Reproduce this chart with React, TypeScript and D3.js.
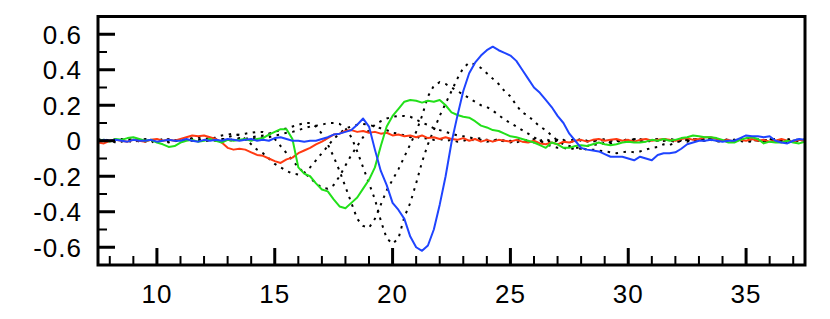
import React, { useEffect, useRef } from 'react';
import * as d3 from 'd3';

// samples every 0.25 starting at x = 7.5 (one row = one x unit)
const xStart = 7.5;
const xStep = 0.25;

const red = [
  -0.01, -0.015, 0.0, 0.005,
  0.0, -0.005, 0.005, 0.0,
  -0.005, 0.005, 0.01, 0.0,
  0.005, 0.0, 0.01, 0.02,
  0.03, 0.025, 0.03, 0.02,
  0.01, -0.01, -0.04, -0.05,
  -0.045, -0.05, -0.065, -0.08,
  -0.085, -0.1, -0.115, -0.125,
  -0.105, -0.095, -0.07, -0.055,
  -0.04, -0.02, -0.005, 0.015,
  0.035, 0.04, 0.055, 0.06,
  0.05, 0.055, 0.045, 0.05,
  0.04, 0.045, 0.03, 0.035,
  0.025, 0.03, 0.02, 0.03,
  0.015, 0.02, 0.01, 0.02,
  0.01, 0.005, 0.015, 0.0,
  0.01, -0.005, 0.005, -0.005,
  0.005, 0.0, -0.005, 0.005,
  -0.005, -0.01, 0.0, -0.015,
  -0.02, -0.01, -0.02, -0.005,
  -0.01, 0.0, 0.005, -0.005,
  0.005, 0.01, 0.0, 0.005,
  0.01, 0.0, 0.005, -0.005,
  0.005, 0.01, 0.0, 0.005,
  0.01, 0.005, 0.0, 0.01,
  0.015, 0.005, 0.01, 0.02,
  0.02, 0.01, 0.0, 0.005,
  -0.005, 0.005, 0.0, 0.01,
  0.0, 0.005, -0.005, 0.0,
  0.01, 0.0, -0.005, 0.005,
  0.0,
];

const green = [
  0.0, 0.005, -0.005, 0.01,
  0.005, 0.015, 0.02, 0.01,
  0.0, 0.005, -0.01, -0.02,
  -0.035, -0.03, -0.01, 0.0,
  0.005, -0.005, 0.0, 0.01,
  0.0, -0.01, 0.005, 0.0,
  0.005, 0.01, 0.0, 0.01,
  0.015, 0.035, 0.05, 0.065,
  0.065, 0.01, -0.15, -0.185,
  -0.2, -0.24, -0.275, -0.285,
  -0.33, -0.37, -0.38, -0.35,
  -0.32, -0.27, -0.22, -0.15,
  -0.03, 0.08, 0.14, 0.18,
  0.22, 0.23, 0.225, 0.215,
  0.225, 0.22, 0.23, 0.2,
  0.16, 0.145, 0.135, 0.13,
  0.11, 0.085, 0.075, 0.06,
  0.055, 0.04, 0.025, 0.02,
  0.01, 0.0, -0.01, -0.025,
  -0.04, -0.01, -0.02, -0.04,
  -0.04, -0.03, -0.025, -0.03,
  -0.02, -0.01, -0.02, -0.025,
  -0.02, -0.01, -0.005, -0.01,
  -0.01, -0.005, 0.005, 0.0,
  0.01, 0.0, 0.005, 0.015,
  0.02, 0.03, 0.025, 0.02,
  0.02, 0.015, 0.005, -0.01,
  -0.01, 0.005, 0.015, 0.02,
  0.01, -0.015, -0.005, -0.01,
  -0.01, 0.0, -0.01, -0.015,
  -0.005,
];

const blue = [
  -0.005, 0.005, 0.0, 0.005,
  0.0, -0.005, 0.005, 0.0,
  0.0, 0.005, -0.005, 0.0,
  0.005, 0.0, 0.0, 0.01,
  0.0, -0.005, 0.005, 0.0,
  0.005, 0.0, 0.01, 0.005,
  0.0, 0.005, 0.01, 0.0,
  0.005, 0.0, 0.015, 0.02,
  0.01, 0.0, 0.0, -0.005,
  0.0, 0.0, 0.01, 0.02,
  0.035, 0.04, 0.05, 0.06,
  0.09, 0.125, 0.08, -0.05,
  -0.17, -0.25, -0.35, -0.39,
  -0.44, -0.54, -0.6, -0.62,
  -0.59, -0.5, -0.36, -0.2,
  -0.01, 0.14, 0.28, 0.38,
  0.44, 0.48, 0.51, 0.53,
  0.51, 0.495, 0.48, 0.45,
  0.4, 0.35, 0.3, 0.27,
  0.23, 0.19, 0.14, 0.1,
  0.04, 0.0, -0.04, -0.05,
  -0.055, -0.06, -0.075, -0.09,
  -0.09, -0.09, -0.1, -0.11,
  -0.09, -0.1, -0.11, -0.08,
  -0.07, -0.07, -0.065, -0.045,
  -0.02, -0.01, 0.0, 0.0,
  0.005, 0.0, -0.005, 0.0,
  0.0, 0.015, 0.03, 0.025,
  0.025, 0.02, 0.025, 0.0,
  -0.01, -0.015, 0.0, 0.01,
  0.005,
];

// intermediate snapshots, dotted black
const dot1 = [
  0.005, -0.005, 0.01, 0.0,
  -0.005, 0.005, 0.0, 0.01,
  0.0, -0.01, 0.005, 0.0,
  0.01, 0.0, -0.005, 0.005,
  0.015, 0.02, 0.01, 0.005,
  0.02, 0.03, 0.035, 0.04,
  0.03, 0.01, -0.02, -0.05,
  -0.07, -0.1, -0.13, -0.15,
  -0.17, -0.185, -0.19, -0.18,
  -0.15, -0.11, -0.07, -0.03,
  0.01, 0.04, 0.07, 0.08,
  0.09, 0.095, 0.09, 0.08,
  0.07, 0.06, 0.045, 0.04,
  0.03, 0.02, 0.025, 0.01,
  0.015, 0.005, 0.01, 0.0,
  0.005, -0.005, 0.0, 0.01,
  0.0, 0.005, -0.005, 0.0,
  0.01, 0.0, -0.01, 0.005,
  0.0, -0.005, 0.01, 0.0,
  -0.01, 0.0, 0.005, -0.005,
  0.0, 0.01, 0.0, -0.005,
  0.005, 0.0, 0.01, 0.0,
  -0.005, 0.005, 0.0, 0.01,
  0.0, -0.01, 0.005, 0.0,
  0.01, 0.0, -0.005, 0.005,
  0.0, 0.01, 0.005, 0.0,
  0.015, 0.0, -0.005, 0.005,
  0.0, 0.01, 0.0, -0.005,
  0.005, 0.0, 0.01, 0.0,
  -0.005, 0.005, 0.0, 0.01,
  0.0,
];

const dot2 = [
  0.0, 0.01, -0.005, 0.005,
  0.01, 0.0, -0.01, 0.005,
  0.005, 0.0, 0.01, -0.005,
  0.0, 0.005, 0.0, 0.01,
  0.005, 0.0, 0.01, 0.015,
  0.01, 0.005, 0.02, 0.03,
  0.035, 0.04, 0.045, 0.05,
  0.05, 0.04, 0.01, -0.03,
  -0.07, -0.11, -0.15, -0.18,
  -0.21, -0.24, -0.265, -0.27,
  -0.25, -0.2, -0.14, -0.08,
  -0.03, 0.02, 0.06, 0.09,
  0.11, 0.125, 0.135, 0.14,
  0.14, 0.135, 0.12, 0.1,
  0.09, 0.07, 0.06, 0.05,
  0.04, 0.03, 0.025, 0.02,
  0.01, 0.015, 0.005, 0.0,
  0.005, -0.005, 0.0, -0.01,
  0.0, 0.005, -0.01, 0.0,
  0.01, -0.005, 0.0, 0.005,
  -0.01, 0.0, 0.01, 0.0,
  -0.005, 0.005, 0.0, -0.01,
  0.005, 0.0, 0.01, 0.005,
  0.0, -0.005, 0.005, 0.01,
  0.0, 0.005, -0.005, 0.0,
  0.01, 0.0, 0.005, 0.015,
  0.005, -0.005, 0.0, 0.01,
  0.005, 0.0, -0.01, 0.0,
  0.01, 0.005, 0.0, -0.005,
  0.0, 0.01, 0.005, 0.0,
  0.005,
];

const dot3 = [
  0.01, 0.0, 0.005, -0.01,
  0.0, 0.01, 0.005, 0.0,
  -0.005, 0.005, 0.0, 0.01,
  0.005, -0.005, 0.01, 0.0,
  0.0, 0.01, 0.005, 0.0,
  0.005, 0.01, 0.0, 0.01,
  0.015, 0.01, 0.02, 0.025,
  0.03, 0.04, 0.05, 0.06,
  0.07, 0.08, 0.09, 0.1,
  0.1, 0.08, 0.04, -0.02,
  -0.09, -0.17, -0.26, -0.35,
  -0.44, -0.48, -0.49, -0.44,
  -0.36, -0.28, -0.22, -0.16,
  -0.09, -0.02, 0.05, 0.14,
  0.25, 0.31, 0.33, 0.32,
  0.3, 0.28, 0.26, 0.24,
  0.22, 0.2, 0.19, 0.17,
  0.145, 0.12, 0.1, 0.08,
  0.06, 0.04, 0.02, 0.0,
  -0.02, -0.03, -0.04, -0.04,
  -0.05, -0.04, -0.045, -0.03,
  -0.02, -0.025, -0.01, -0.015,
  0.0, -0.01, 0.005, 0.0,
  0.01, 0.0, -0.005, 0.005,
  0.0, 0.01, 0.005, 0.0,
  -0.005, 0.005, 0.01, 0.0,
  0.01, 0.005, 0.0, -0.005,
  0.005, 0.0, 0.01, 0.005,
  0.0, -0.005, 0.005, 0.01,
  0.0, 0.005, -0.005, 0.0,
  0.01,
];

const dot4 = [
  -0.005, 0.005, 0.0, 0.01,
  0.005, 0.0, 0.01, -0.005,
  0.01, 0.0, 0.005, 0.0,
  -0.01, 0.005, 0.0, 0.005,
  0.01, 0.0, -0.005, 0.005,
  0.0, 0.01, 0.005, 0.0,
  0.01, 0.005, 0.01, 0.015,
  0.02, 0.02, 0.03, 0.035,
  0.045, 0.05, 0.06, 0.07,
  0.08, 0.085, 0.09, 0.1,
  0.1, 0.095, 0.07, 0.02,
  -0.06, -0.15, -0.24, -0.33,
  -0.45, -0.55, -0.58, -0.55,
  -0.43, -0.35, -0.24, -0.12,
  -0.02, 0.06, 0.14, 0.21,
  0.28, 0.35, 0.41, 0.44,
  0.43, 0.41, 0.38, 0.35,
  0.32, 0.28, 0.25, 0.2,
  0.16, 0.14, 0.11, 0.08,
  0.06, 0.03, 0.0, -0.02,
  -0.03, -0.04, -0.04, -0.05,
  -0.05, -0.055, -0.06, -0.065,
  -0.07, -0.065, -0.06, -0.065,
  -0.06, -0.05, -0.04, -0.035,
  -0.02, -0.025, -0.01, 0.0,
  0.005, 0.01, 0.0, 0.015,
  0.01, 0.0, 0.005, -0.005,
  0.0, 0.01, 0.02, 0.005,
  0.0, -0.005, 0.01, 0.0,
  0.005, -0.01, 0.0, 0.005,
  0.0,
];

const dottedSeries = [dot1, dot2, dot3, dot4];
const coloredSeries = [
  { values: red, color: '#ff3a12' },
  { values: green, color: '#22e01a' },
  { values: blue, color: '#1f44ff' },
];

const xMajorTicks = [10, 15, 20, 25, 30, 35];
const xMinorTicks = [8, 9, 11, 12, 13, 14, 16, 17, 18, 19, 21, 22, 23, 24, 26, 27, 28, 29, 31, 32, 33, 34, 36, 37];
const yMajorTicks = [-0.6, -0.4, -0.2, 0, 0.2, 0.4, 0.6];
const yMajorLabels = ['-0.6', '-0.4', '-0.2', '0', '0.2', '0.4', '0.6'];
const yMinorTicks = [-0.5, -0.3, -0.1, 0.1, 0.3, 0.5];

const width = 830;
const height = 319;
const frame = { left: 98, right: 805, top: 16.5, bottom: 265 };

export default function App() {
  const ref = useRef<SVGSVGElement>(null);

  useEffect(() => {
    const svg = d3.select(ref.current);
    svg.selectAll('*').remove();

    const x = d3.scaleLinear().domain([7.5, 37.5]).range([frame.left, frame.right]);
    const y = d3.scaleLinear().domain([-0.7, 0.7]).range([frame.bottom, frame.top]);

    const line = d3.line<number>()
      .x((_, i) => x(xStart + i * xStep))
      .y(d => y(d));

    svg.append('clipPath').attr('id', 'plotClip')
      .append('rect')
      .attr('x', frame.left).attr('y', frame.top)
      .attr('width', frame.right - frame.left)
      .attr('height', frame.bottom - frame.top);

    const plot = svg.append('g').attr('clip-path', 'url(#plotClip)');

    plot.selectAll('path.dotted')
      .data(dottedSeries)
      .join('path')
      .attr('class', 'dotted')
      .attr('fill', 'none')
      .attr('stroke', '#000')
      .attr('stroke-width', 2)
      .attr('stroke-dasharray', '2.5 5.5')
      .attr('d', d => line(d));

    plot.selectAll('path.solid')
      .data(coloredSeries)
      .join('path')
      .attr('class', 'solid')
      .attr('fill', 'none')
      .attr('stroke', d => d.color)
      .attr('stroke-width', 2)
      .attr('stroke-linejoin', 'round')
      .attr('d', d => line(d.values));

    // ticks point inward from left and bottom
    const ticks = svg.append('g').attr('stroke', '#000');
    ticks.selectAll('line.xmaj').data(xMajorTicks).join('line')
      .attr('x1', d => x(d)).attr('x2', d => x(d))
      .attr('y1', frame.bottom).attr('y2', frame.bottom - 17)
      .attr('stroke-width', 3);
    ticks.selectAll('line.xmin').data(xMinorTicks).join('line')
      .attr('x1', d => x(d)).attr('x2', d => x(d))
      .attr('y1', frame.bottom).attr('y2', frame.bottom - 9)
      .attr('stroke-width', 2);
    ticks.selectAll('line.ymaj').data(yMajorTicks).join('line')
      .attr('y1', d => y(d)).attr('y2', d => y(d))
      .attr('x1', frame.left).attr('x2', frame.left + 17)
      .attr('stroke-width', 3);
    ticks.selectAll('line.ymin').data(yMinorTicks).join('line')
      .attr('y1', d => y(d)).attr('y2', d => y(d))
      .attr('x1', frame.left).attr('x2', frame.left + 9)
      .attr('stroke-width', 2);

    svg.append('rect')
      .attr('x', frame.left).attr('y', frame.top)
      .attr('width', frame.right - frame.left)
      .attr('height', frame.bottom - frame.top)
      .attr('fill', 'none')
      .attr('stroke', '#000')
      .attr('stroke-width', 3);

    const font = 'Liberation Sans, Arial, Helvetica, sans-serif';

    svg.append('g').selectAll('text').data(yMajorTicks).join('text')
      .attr('x', 82)
      .attr('y', d => y(d))
      .attr('dy', '0.36em')
      .attr('text-anchor', 'end')
      .attr('font-family', font)
      .attr('font-size', 26)
      .attr('letter-spacing', 1)
      .text((_, i) => yMajorLabels[i]);

    svg.append('g').selectAll('text').data(xMajorTicks).join('text')
      .attr('x', d => x(d))
      .attr('y', 303)
      .attr('text-anchor', 'middle')
      .attr('font-family', font)
      .attr('font-size', 26)
      .attr('letter-spacing', 1)
      .text(d => String(d));
  }, []);

  return (
    <svg
      ref={ref}
      width={width}
      height={height}
      style={{ position: 'absolute', left: 0, top: 0, background: '#fff' }}
    />
  );
}
